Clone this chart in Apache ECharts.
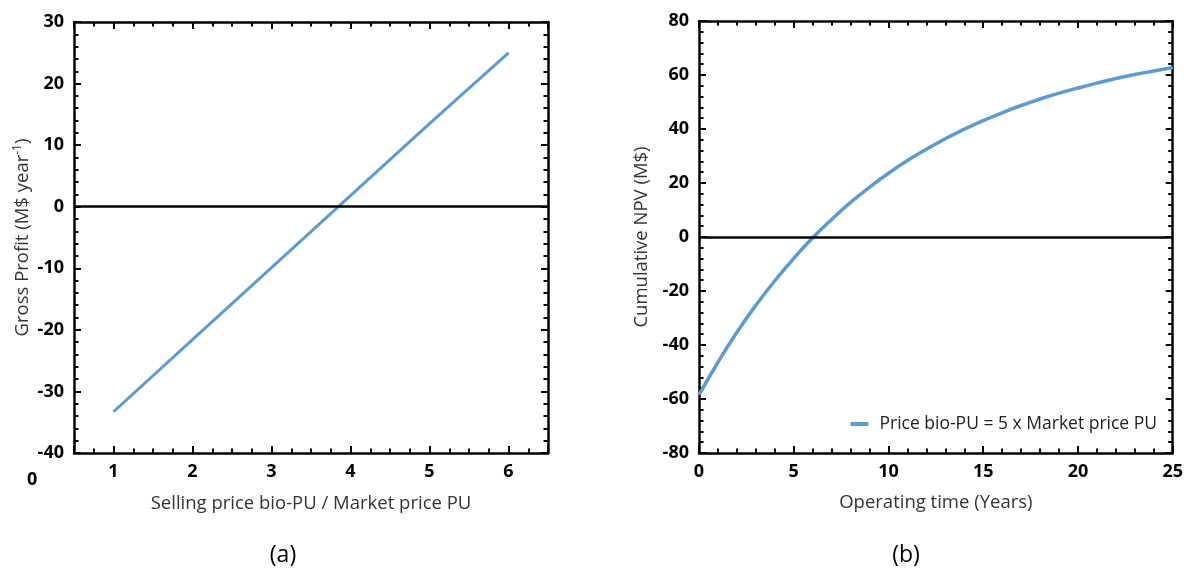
<!DOCTYPE html>
<html>
<head>
<meta charset="utf-8">
<script src="https://cdn.jsdelivr.net/npm/echarts@6/dist/echarts.min.js"></script>
<style>
html,body{margin:0;padding:0;background:#fff;}
#chart{width:1186px;height:575px;}
</style>
</head>
<body>
<div id="chart"></div>
<script>
// Panel (a): gross profit vs price ratio
const priceRatio = [1, 2, 3, 4, 5, 6];
const grossProfit = [-33.3, -21.6, -9.9, 1.8, 13.5, 25.0];
// Panel (b): cumulative NPV vs operating time
const years = [0, 1, 2, 3, 4, 5, 6, 7, 8, 9, 10, 11, 12, 13, 14, 15, 16, 17, 18, 19, 20, 21, 22, 23, 24, 25];
const cumulativeNPV = [-58.5, -46.4, -35.3, -25.3, -16.2, -7.9, -0.3, 6.5, 12.8, 18.4, 23.6, 28.3, 32.5, 36.4, 39.9, 43.1, 46.0, 48.7, 51.1, 53.3, 55.2, 57.0, 58.7, 60.2, 61.5, 62.8];
const seriesNameB = 'Price bio-PU = 5 x Market price PU';
const xTitleA = 'Selling price bio-PU / Market price PU';
const yTitleA = 'Gross Profit (M$ year{sup|-1})';
const xTitleB = 'Operating time (Years)';
const yTitleB = 'Cumulative NPV (M$)';

const FONT = '"Open Sans", sans-serif';
const BLUE = '#5B9BD5';
const TITLE_SIZE = 18.5;

function axis(base, extra) {
  return Object.assign({
    type: 'value',
    axisLine: { show: true, onZero: false, lineStyle: { color: '#000', width: 2.5 } },
    axisTick: { show: true, inside: true, length: 7, lineStyle: { color: '#000', width: 2 } },
    minorTick: { show: true, length: 4.5, lineStyle: { color: '#000', width: 2 } },
    splitLine: { show: false },
    minorSplitLine: { show: false },
    axisLabel: { show: true, color: '#000', fontWeight: 'bold', fontSize: 18, fontFamily: FONT, margin: 10 },
    nameTextStyle: { color: '#333', fontSize: TITLE_SIZE, fontFamily: FONT }
  }, base, extra);
}

const fmtInt = v => (Number.isInteger(v) ? String(v) : '');

const xA = { gridIndex: 0, min: 0.5, max: 6.5, splitNumber: 6, minorTick: { show: true, splitNumber: 4, length: 4.5, lineStyle: { color: '#000', width: 2 } } };
const yA = { gridIndex: 0, min: -40, max: 30, interval: 10, minorTick: { show: true, splitNumber: 5, length: 4.5, lineStyle: { color: '#000', width: 2 } } };
const xB = { gridIndex: 1, min: 0, max: 25, interval: 5, minorTick: { show: true, splitNumber: 5, length: 4.5, lineStyle: { color: '#000', width: 2 } } };
const yB = { gridIndex: 1, min: -80, max: 80, interval: 20, minorTick: { show: true, splitNumber: 5, length: 4.5, lineStyle: { color: '#000', width: 2 } } };

const chart = echarts.init(document.getElementById('chart'));
chart.setOption({
  animation: false,
  backgroundColor: '#fff',
  grid: [
    { left: 74, right: 638, top: 22, bottom: 122 },
    { left: 699, right: 12, top: 21, bottom: 122 }
  ],
  xAxis: [
    axis(xA, { position: 'bottom', name: xTitleA, nameLocation: 'middle', nameGap: 41,
      axisLabel: { show: true, color: '#000', fontWeight: 'bold', fontSize: 18, fontFamily: FONT, margin: 10, formatter: fmtInt } }),
    axis(xA, { position: 'top', axisLabel: { show: false } }),
    axis(xB, { position: 'bottom', name: xTitleB, nameLocation: 'middle', nameGap: 40 }),
    axis(xB, { position: 'top', axisLabel: { show: false } })
  ],
  yAxis: [
    axis(yA, { position: 'left', name: yTitleA, nameLocation: 'middle', nameGap: 40,
      nameTextStyle: { color: '#333', fontSize: TITLE_SIZE, fontFamily: FONT, rich: { sup: { fontSize: 12, fontFamily: FONT, color: '#333', padding: [0, 0, 10, 0] } } } }),
    axis(yA, { position: 'right', axisLabel: { show: false } }),
    axis(yB, { position: 'left', name: yTitleB, nameLocation: 'middle', nameGap: 48 }),
    axis(yB, { position: 'right', axisLabel: { show: false } })
  ],
  legend: {
    data: [seriesNameB],
    right: 24, top: 410,
    icon: 'rect', itemWidth: 18, itemHeight: 4,
    textStyle: { color: '#222', fontSize: 17.5, fontFamily: FONT, padding: [0, 0, 0, 6] }
  },
  series: [
    {
      name: 'Gross profit', type: 'line', xAxisIndex: 0, yAxisIndex: 0,
      data: priceRatio.map((x, i) => [x, grossProfit[i]]),
      showSymbol: false, lineStyle: { color: BLUE, width: 3 }, itemStyle: { color: BLUE },
      markLine: { silent: true, symbol: 'none', label: { show: false },
        lineStyle: { color: '#000', width: 2.5, type: 'solid' }, data: [{ yAxis: 0 }] }
    },
    {
      name: seriesNameB, type: 'line', xAxisIndex: 2, yAxisIndex: 2,
      data: years.map((x, i) => [x, cumulativeNPV[i]]),
      smooth: true, showSymbol: false, lineStyle: { color: BLUE, width: 3.5 }, itemStyle: { color: BLUE },
      markLine: { silent: true, symbol: 'none', label: { show: false },
        lineStyle: { color: '#000', width: 2.5, type: 'solid' }, data: [{ yAxis: 0 }] }
    }
  ],
  graphic: [
    { type: 'text', left: 27, top: 471, style: { text: '0', fill: '#000', font: 'bold 18px ' + FONT } },
    { type: 'text', x: 283, y: 555, style: { text: '(a)', fill: '#000', font: '23px ' + FONT, align: 'center', verticalAlign: 'middle' } },
    { type: 'text', x: 906, y: 555, style: { text: '(b)', fill: '#000', font: '23px ' + FONT, align: 'center', verticalAlign: 'middle' } }
  ]
});
</script>
</body>
</html>
